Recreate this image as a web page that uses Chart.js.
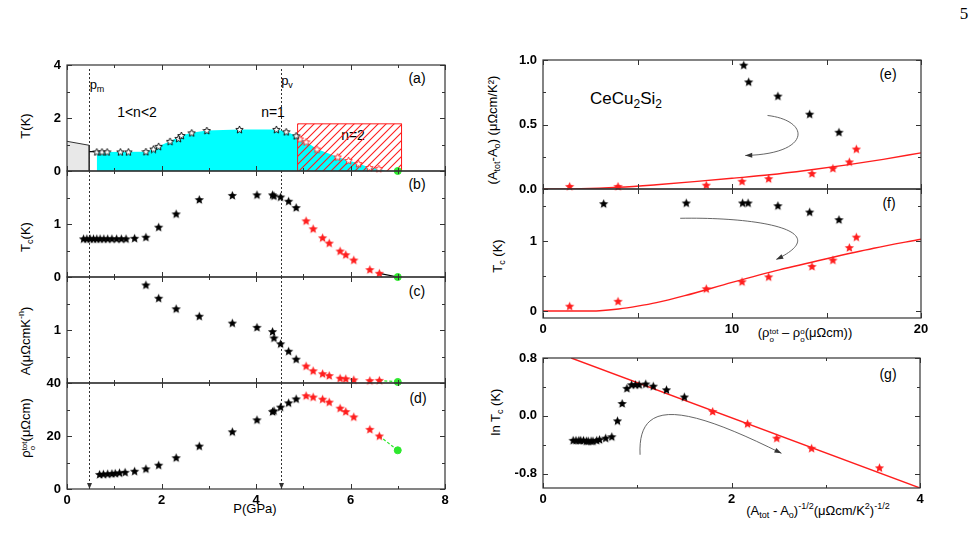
<!DOCTYPE html>
<html>
<head>
<meta charset="utf-8">
<script src="https://cdn.jsdelivr.net/npm/chart.js@4.4.1/dist/chart.umd.min.js"></script>
<style>
body { margin: 0; background: #fff; font-family: "Liberation Sans", Arial, sans-serif; }
#page { position: relative; width: 979px; height: 548px; overflow: hidden; background: #fff; }
canvas { position: absolute; }
.t { position: absolute; white-space: nowrap; font-size: 13px; color: #000; line-height: 1; transform: translate(-50%, -50%); }
.r { transform: translate(-50%, -50%) rotate(-90deg); }
sub, sup { font-size: 9px; line-height: 0; }
.ss { display: inline-block; font-size: 8px; line-height: 8px; vertical-align: -5px; text-align: left; }
</style>
</head>
<body>
<div id="page">
  <div class="t" style="left:97px;top:84px">p<sub>m</sub></div>
  <div class="t" style="left:287px;top:80px">p<sub>v</sub></div>
  <div class="t" style="left:137px;top:112px;font-size:14px">1&lt;n&lt;2</div>
  <div class="t" style="left:273px;top:112px;font-size:14px">n=1</div>
  <div class="t" style="left:353px;top:135px;font-size:14px">n=2</div>
  <div class="t" style="left:118px;top:160px;font-size:14px">SC1</div>
  <div class="t" style="left:238px;top:157px;font-size:14px">SC2</div>
  <div class="t" style="left:417px;top:78px;font-size:14px">(a)</div>
  <div class="t" style="left:417px;top:184px;font-size:14px">(b)</div>
  <div class="t" style="left:417px;top:291px;font-size:14px">(c)</div>
  <div class="t" style="left:418px;top:398px;font-size:14px">(d)</div>
  <div class="t r" style="left:25px;top:126px">T(K)</div>
  <div class="t r" style="left:25px;top:237px">T<sub>c</sub>(K)</div>
  <div class="t r" style="left:25px;top:341px">A(μΩcmK<sup>-n</sup>)</div>
  <div class="t r" style="left:28px;top:428px">ρ<span class="ss">tot<br>o</span>(μΩcm)</div>
  <div class="t" style="left:255px;top:508px">P(GPa)</div>

  <div class="t" style="left:888px;top:74px;font-size:14px">(e)</div>
  <div class="t" style="left:889px;top:203px;font-size:14px">(f)</div>
  <div class="t" style="left:888px;top:374px;font-size:14px">(g)</div>
  <div class="t" style="left:626px;top:98px;font-size:17px">CeCu<sub style="font-size:12px">2</sub>Si<sub style="font-size:12px">2</sub></div>
  <div class="t r" style="left:492px;top:130px">(A<sub>tot</sub>-A<sub>o</sub>) (μΩcm/K²)</div>
  <div class="t r" style="left:497px;top:256px">T<sub>c</sub> (K)</div>
  <div class="t" style="left:805px;top:335px">(ρ<span class="ss">tot<br>o</span> – ρ<span class="ss">o<br>o</span>(μΩcm))</div>
  <div class="t r" style="left:495px;top:412px">ln T<sub>c</sub> (K)</div>
  <div class="t" style="left:818px;top:510px">(A<sub>tot</sub> - A<sub>o</sub>)<sup>-1/2</sup>(μΩcm/K<sup>2</sup>)<sup>-1/2</sup></div>
  <div class="t" style="left:964px;top:13px;font-family:'Liberation Serif',serif;font-size:17px">5</div>
</div>
<script>
// ---- left column, x = pressure (GPa)
const pTicks = [0, 2, 4, 6, 8];
const refLines = [0.47, 4.52];   // p_m, p_v

// (a) phase diagram
const aBlackP = [0.63, 0.74, 0.85, 1.13, 1.30, 1.67, 1.83, 1.94, 2.18, 2.36, 2.42, 2.64, 2.96, 3.65, 4.43, 4.64, 4.85];
const aBlackT = [0.72, 0.72, 0.72, 0.72, 0.72, 0.73, 0.83, 0.93, 1.12, 1.23, 1.34, 1.44, 1.53, 1.57, 1.57, 1.48, 1.33];
const aRedP = [4.93, 5.06, 5.29, 5.73, 5.96, 6.17, 6.40, 6.60];
const aRedT = [1.21, 1.10, 0.83, 0.53, 0.40, 0.28, 0.13, 0.09];
const scP = [0.63, 1.67, 1.83, 1.94, 2.18, 2.42, 2.64, 2.96, 3.65, 4.43, 4.64, 4.85, 5.06, 5.29, 5.73, 5.96, 6.17, 6.40, 6.60, 6.75];
const scT = [0.72, 0.73, 0.83, 0.93, 1.12, 1.34, 1.44, 1.53, 1.57, 1.57, 1.48, 1.33, 1.10, 0.83, 0.53, 0.40, 0.28, 0.13, 0.09, 0];
const grayP = [0, 0.47, 0.47];
const grayT = [1.12, 0.97, 0];
const linkP = [0.47, 0.63];
const linkT = [0.73, 0.73];
const n2P = [4.88, 4.88, 7.08, 7.08];
const n2T = [0, 1.78, 1.78, 0];
const aYTicks = [0, 2, 4];

// (b) Tc
const bBlackP = [0.35, 0.42, 0.49, 0.56, 0.63, 0.70, 0.78, 0.86, 0.95, 1.05, 1.15, 1.25, 1.43, 1.67, 1.94, 2.31, 2.80, 3.50, 4.02, 4.35, 4.38, 4.52, 4.69, 4.85];
const bBlackT = [0.72, 0.72, 0.72, 0.72, 0.72, 0.72, 0.72, 0.72, 0.72, 0.72, 0.72, 0.72, 0.73, 0.75, 0.94, 1.19, 1.46, 1.54, 1.55, 1.55, 1.53, 1.51, 1.43, 1.31];
const redP = [5.06, 5.21, 5.41, 5.55, 5.78, 5.90, 6.07, 6.41, 6.61];
const bRedT = [1.06, 0.91, 0.74, 0.64, 0.49, 0.42, 0.32, 0.14, 0.07];
const bYTicks = [0, 1];

// (c) A coefficient
const cBlackP = [1.67, 1.94, 2.31, 2.80, 3.50, 4.02, 4.35, 4.38, 4.52, 4.69, 4.85];
const cBlackA = [1.85, 1.60, 1.40, 1.26, 1.13, 1.05, 0.97, 0.85, 0.74, 0.60, 0.45];
const cRedA = [0.32, 0.23, 0.175, 0.14, 0.09, 0.08, 0.06, 0.045, 0.05];
const cYTicks = [1];

// (d) residual resistivity
const dBlackP = [0.69, 0.77, 0.86, 0.95, 1.02, 1.11, 1.23, 1.43, 1.67, 1.94, 2.31, 2.80, 3.50, 4.02, 4.35, 4.38, 4.52, 4.69, 4.85];
const dBlackR = [5.5, 5.6, 5.7, 5.8, 5.9, 6.1, 6.3, 6.7, 7.6, 9.0, 11.8, 16.2, 21.6, 26.1, 29.2, 29.5, 30.9, 32.5, 34.0];
const dRedR = [35.2, 34.7, 33.9, 32.8, 30.5, 29.2, 27.2, 22.5, 20.0];
const dYTicks = [0, 20, 40];

// green end points at 7 GPa
const greenP = 7.0;
const greenT = 0, greenA = 0.02, greenR = 14.6;

// ---- right column
const eBlackX = [10.62, 10.88, 12.43, 14.11, 15.66];
const eBlackY = [0.96, 0.83, 0.72, 0.58, 0.44];
const rhoRedX = [1.41, 3.97, 8.64, 10.53, 11.94, 14.23, 15.34, 16.21, 16.58];
const eRedY = [0.02, 0.02, 0.03, 0.06, 0.08, 0.12, 0.16, 0.21, 0.31];
const eFitX = [0, 2, 4, 6, 8, 10, 12, 14, 16, 18, 20];
const eFitY = [0, 0.002, 0.013, 0.033, 0.057, 0.083, 0.11, 0.145, 0.185, 0.23, 0.28];
const eYTicks = [0, 0.5, 1.0];

const fBlackX = [3.21, 7.58, 10.56, 10.85, 12.43, 14.11, 15.66];
const fBlackY = [1.54, 1.55, 1.55, 1.55, 1.51, 1.42, 1.31];
const fRedY = [0.07, 0.14, 0.32, 0.42, 0.49, 0.64, 0.73, 0.91, 1.06];
const fFitX = [0, 2, 3, 4, 5, 6, 7.5, 10, 12.5, 15, 17.5, 20];
const fFitY = [0, 0, 0.005, 0.03, 0.07, 0.12, 0.22, 0.41, 0.59, 0.75, 0.9, 1.03];
const rhoTicks = [0, 10, 20];
const fYTicks = [0, 1];

const gBlackX = [0.32, 0.35, 0.38, 0.40, 0.43, 0.46, 0.48, 0.51, 0.53, 0.57, 0.60, 0.665, 0.73, 0.79, 0.84, 0.89, 0.94, 0.98, 1.02, 1.09, 1.17, 1.31, 1.50];
const gBlackY = [-0.34, -0.34, -0.34, -0.34, -0.34, -0.35, -0.35, -0.35, -0.35, -0.34, -0.33, -0.31, -0.29, -0.07, 0.17, 0.38, 0.43, 0.43, 0.43, 0.44, 0.41, 0.36, 0.26];
const gRedX = [1.80, 2.17, 2.48, 2.85, 3.57];
const gRedY = [0.06, -0.11, -0.31, -0.45, -0.72];
const gFitX = [0.3, 4.0];
const gFitY = [0.8, -1.0];
const gXTicks = [0, 2, 4];
const gYTicks = [-0.8, 0, 0.8];

const RED = '#ff1e1e', GREEN = '#2ee82e', CYAN = '#00ffff';
const tickFont = { family: "'Liberation Sans', Arial, sans-serif", size: 13, weight: 'bold' };

const xy = (xs, ys) => xs.map((x, i) => ({ x: x, y: ys[i] }));

// five point star used as point style
function star(size, fill, stroke) {
    const c = document.createElement('canvas');
    c.width = c.height = size;
    const g = c.getContext('2d');
    const cx = size / 2, cy = size / 2 + 0.4, R = size / 2 - 0.6, r = R * 0.45;
    g.beginPath();
    for (let i = 0; i < 10; i++) {
        const a = -Math.PI / 2 + i * Math.PI / 5, rr = i % 2 ? r : R;
        g.lineTo(cx + rr * Math.cos(a), cy + rr * Math.sin(a));
    }
    g.closePath();
    g.fillStyle = fill; g.fill();
    if (stroke) { g.strokeStyle = stroke; g.lineWidth = 0.9; g.stroke(); }
    return c;
}
const starK = star(11, '#000'), starR = star(11, RED);
const hollowK = star(9, '#fff', '#000'), hollowR = star(9, '#fff', RED);

function hatch() {
    const c = document.createElement('canvas');
    c.width = c.height = 8;
    const g = c.getContext('2d');
    g.strokeStyle = RED; g.lineWidth = 1.1;
    g.beginPath();
    g.moveTo(0, 8); g.lineTo(8, 0);
    g.moveTo(-2, 2); g.lineTo(2, -2);
    g.moveTo(6, 10); g.lineTo(10, 6);
    g.stroke();
    return g.createPattern(c, 'repeat');
}

const pts = (data, img) => ({ data: data, showLine: false, pointStyle: img, pointRadius: 5, clip: false, order: 1 });
const dot = (x, y) => ({ data: [{ x: x, y: y }], showLine: false, pointStyle: 'circle', pointRadius: 3.5, backgroundColor: GREEN, borderColor: GREEN, clip: false, order: 0 });
const line = (data, color, extra) => Object.assign({ data: data, borderColor: color, borderWidth: 1.2, pointRadius: 0, fill: false, order: 2 }, extra || {});

// frame, inward ticks, dashed reference lines and guide arrows
function framePlugin(o) {
    return {
        id: 'frame',
        beforeDatasetsDraw(chart) {
            const { ctx, chartArea: a } = chart;
            const x = chart.scales.x, y = chart.scales.y;
            ctx.save();
            ctx.strokeStyle = '#333'; ctx.fillStyle = '#333'; ctx.lineWidth = 1;
            (o.vlines || []).forEach(v => {
                const px = Math.round(x.getPixelForValue(v)) + 0.5;
                ctx.setLineDash([2, 2]);
                ctx.beginPath(); ctx.moveTo(px, a.top + (o.vTop || 0)); ctx.lineTo(px, a.bottom); ctx.stroke();
                ctx.setLineDash([]);
                if (o.vArrow) {
                    ctx.beginPath(); ctx.moveTo(px - 2.5, a.bottom - 6); ctx.lineTo(px + 2.5, a.bottom - 6); ctx.lineTo(px, a.bottom); ctx.fill();
                }
            });
            ctx.strokeStyle = '#555'; ctx.fillStyle = '#333'; ctx.lineWidth = 0.9;
            (o.arrows || []).forEach(ar => {
                const p = ar.map(q => [x.getPixelForValue(q[0]), y.getPixelForValue(q[1])]);
                ctx.beginPath(); ctx.moveTo(p[0][0], p[0][1]);
                ctx.bezierCurveTo(p[1][0], p[1][1], p[2][0], p[2][1], p[3][0], p[3][1]);
                ctx.stroke();
                const ang = Math.atan2(p[3][1] - p[2][1], p[3][0] - p[2][0]);
                ctx.save(); ctx.translate(p[3][0], p[3][1]); ctx.rotate(ang);
                ctx.beginPath(); ctx.moveTo(0, 0); ctx.lineTo(-7, -2.5); ctx.lineTo(-7, 2.5); ctx.closePath(); ctx.fill();
                ctx.restore();
            });
            ctx.restore();
        },
        afterDatasetsDraw(chart) {
            const { ctx, chartArea: a } = chart;
            const x = chart.scales.x, y = chart.scales.y;
            ctx.save();
            ctx.strokeStyle = '#333'; ctx.lineWidth = 1.2;
            ctx.strokeRect(a.left, a.top, a.right - a.left, a.bottom - a.top);
            ctx.lineWidth = 1;
            const each = (s, major, minor, fn) => {
                const k0 = Math.ceil(s.min / minor - 1e-6), k1 = Math.floor(s.max / minor + 1e-6);
                for (let k = k0; k <= k1; k++) {
                    const v = k * minor;
                    const isMajor = Math.abs(v / major - Math.round(v / major)) < 1e-6;
                    fn(s.getPixelForValue(v), isMajor ? 5 : 3);
                }
            };
            ctx.beginPath();
            each(x, o.xt[0], o.xt[1], (px, len) => {
                px = Math.round(px) + 0.5;
                ctx.moveTo(px, a.bottom); ctx.lineTo(px, a.bottom - len);
                ctx.moveTo(px, a.top); ctx.lineTo(px, a.top + len);
            });
            each(y, o.yt[0], o.yt[1], (py, len) => {
                py = Math.round(py) + 0.5;
                ctx.moveTo(a.left, py); ctx.lineTo(a.left + len, py);
                ctx.moveTo(a.right, py); ctx.lineTo(a.right - len, py);
            });
            ctx.stroke();
            ctx.restore();
        }
    };
}

const page = document.getElementById('page');

function panel(box, o) {
    // T and the bottom pad must exceed the label overhang (half text height + tick padding)
    const L = 60, T = 18, R = 14, B = o.xLabels ? 26 : 0, PB = 18;
    const w = L + box[2] - box[0] + R, h = T + box[3] - box[1] + (B || PB);
    const cv = document.createElement('canvas');
    cv.width = w; cv.height = h;
    cv.style.left = (box[0] - L) + 'px'; cv.style.top = (box[1] - T) + 'px';
    cv.style.width = w + 'px'; cv.style.height = h + 'px';
    page.appendChild(cv);
    const fmt = o.fmt || (v => String(v));
    new Chart(cv, {
        type: 'line',
        data: { datasets: o.datasets },
        options: {
            responsive: false,
            animation: false,
            events: [],
            devicePixelRatio: 1,
            layout: { padding: { left: 0, top: T, right: R, bottom: B ? 0 : PB } },
            plugins: { legend: { display: false }, tooltip: { enabled: false } },
            scales: {
                x: {
                    type: 'linear', min: o.x[0], max: o.x[1],
                    grid: { display: false, drawTicks: false }, border: { display: false },
                    ticks: { display: !!o.xLabels, padding: 4, color: '#000', font: tickFont, maxRotation: 0, callback: v => String(v) },
                    afterBuildTicks: s => { if (o.xLabels) s.ticks = o.xLabels.map(v => ({ value: v })); },
                    afterFit: s => { s.height = B; }
                },
                y: {
                    type: 'linear', min: o.y[0], max: o.y[1],
                    grid: { display: false, drawTicks: false }, border: { display: false },
                    ticks: { padding: 6, color: '#000', font: tickFont, callback: v => fmt(v) },
                    afterBuildTicks: s => { s.ticks = o.yLabels.map(v => ({ value: v })); },
                    afterFit: s => { s.width = L; }
                }
            }
        },
        plugins: [framePlugin(o)]
    });
}

// (a)
panel([67, 65, 445, 171], {
    x: [0, 8], y: [0, 4], yLabels: aYTicks, xt: [2, 1], yt: [2, 1], vlines: refLines, vTop: 4,
    datasets: [
        line(xy(grayP, grayT), '#333', { fill: 'origin', backgroundColor: '#e8e8e8', borderWidth: 1, order: 6 }),
        line(xy(scP, scT), CYAN, { fill: 'origin', backgroundColor: CYAN, borderWidth: 0, order: 5 }),
        line(xy(n2P, n2T), RED, { fill: 'origin', backgroundColor: hatch(), borderWidth: 1, order: 4 }),
        line(xy(linkP, linkT), '#000', { order: 3 }),
        pts(xy(aBlackP, aBlackT), hollowK),
        pts(xy(aRedP, aRedT), hollowR),
        dot(greenP, greenT)
    ]
});

// (b)
panel([67, 171, 445, 277], {
    x: [0, 8], y: [0, 2], yLabels: bYTicks, xt: [2, 1], yt: [1, 0.5], vlines: refLines,
    datasets: [
        line([{ x: redP[redP.length - 1], y: bRedT[bRedT.length - 1] }, { x: greenP, y: greenT }], '#000'),
        pts(xy(bBlackP, bBlackT), starK),
        pts(xy(redP, bRedT), starR),
        dot(greenP, greenT)
    ]
});

// (c)
panel([67, 277, 445, 383], {
    x: [0, 8], y: [0, 2], yLabels: cYTicks, xt: [2, 1], yt: [1, 0.5], vlines: refLines,
    datasets: [
        line([{ x: redP[redP.length - 1], y: cRedA[cRedA.length - 1] }, { x: greenP, y: greenA }], GREEN, { borderDash: [3, 2] }),
        pts(xy(cBlackP, cBlackA), starK),
        pts(xy(redP, cRedA), starR),
        dot(greenP, greenA)
    ]
});

// (d)
panel([67, 383, 445, 489], {
    x: [0, 8], y: [0, 40], yLabels: dYTicks, xLabels: pTicks, xt: [2, 1], yt: [20, 10], vlines: refLines, vArrow: true,
    datasets: [
        line([{ x: redP[redP.length - 1], y: dRedR[dRedR.length - 1] }, { x: greenP, y: greenR }], GREEN, { borderDash: [3, 2] }),
        pts(xy(dBlackP, dBlackR), starK),
        pts(xy(redP, dRedR), starR),
        dot(greenP, greenR)
    ]
});

// (e)
panel([543, 60, 921, 189], {
    x: [0, 20], y: [0, 1], yLabels: eYTicks, xt: [5, 5], yt: [0.5, 0.25], fmt: v => v.toFixed(1),
    arrows: [[[11.88, 0.57], [14.2, 0.53], [14.2, 0.27], [10.7, 0.26]]],
    datasets: [
        line(xy(eFitX, eFitY), RED, { cubicInterpolationMode: 'monotone', borderWidth: 1.4 }),
        pts(xy(eBlackX, eBlackY), starK),
        pts(xy(rhoRedX, eRedY), starR)
    ]
});

// (f)
panel([543, 189, 921, 318], {
    x: [0, 20], y: [-0.1, 1.75], yLabels: fYTicks, xLabels: rhoTicks, xt: [5, 5], yt: [1, 0.5],
    arrows: [[[7.26, 1.33], [11.5, 1.35], [15.5, 1.15], [12.34, 0.74]]],
    datasets: [
        line(xy(fFitX, fFitY), RED, { cubicInterpolationMode: 'monotone', borderWidth: 1.4 }),
        pts(xy(fBlackX, fBlackY), starK),
        pts(xy(rhoRedX, fRedY), starR)
    ]
});

// (g)
panel([543, 358, 920, 488], {
    x: [0, 4], y: [-1.0, 0.8], yLabels: gYTicks, xLabels: gXTicks, xt: [2, 1], yt: [0.8, 0.4], fmt: v => v.toFixed(1),
    arrows: [[[1.03, -0.54], [1.0, 0.25], [1.5, 0.15], [2.53, -0.52]]],
    datasets: [
        line(xy(gFitX, gFitY), RED, { borderWidth: 1.4 }),
        pts(xy(gBlackX, gBlackY), starK),
        pts(xy(gRedX, gRedY), starR)
    ]
});
</script>
</body>
</html>
